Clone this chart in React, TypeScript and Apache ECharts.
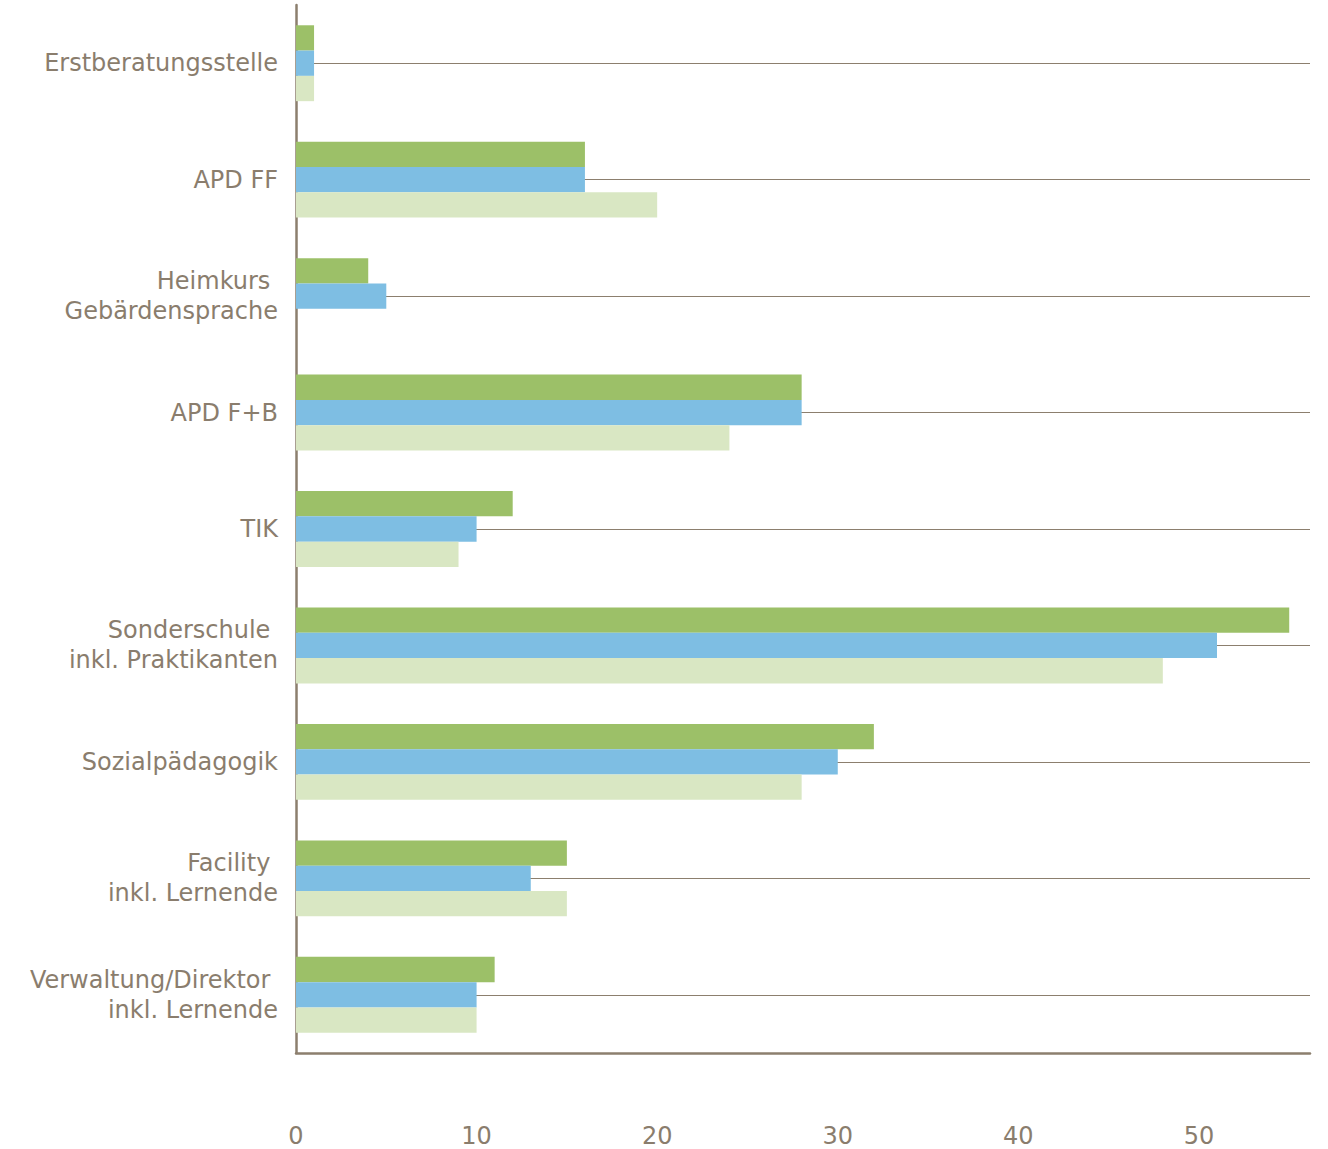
import React, { useEffect, useRef } from "react";
import * as echarts from "echarts";

const categories = [
  "Erstberatungsstelle",
  "APD FF",
  "Heimkurs \nGebärdensprache",
  "APD F+B",
  "TIK",
  "Sonderschule \ninkl. Praktikanten",
  "Sozialpädagogik",
  "Facility \ninkl. Lernende",
  "Verwaltung/Direktor \ninkl. Lernende",
];

const seriesDark = [1, 16, 4, 28, 12, 55, 32, 15, 11];
const seriesBlue = [1, 16, 5, 28, 10, 51, 30, 13, 10];
const seriesLight = [1, 20, 0, 24, 9, 48, 28, 15, 10];

const xTicks = [0, 10, 20, 30, 40, 50];

const TEXT = "#8A7D6D";
const AXIS = "#8C7F6E";
const FONT = "DejaVu Sans";

// small vertical label nudges (px, positive = down) to match the reference
const labelNudge = [-2, -2, -6, 3, 4, 6, 0, 0, -2];

export default function App() {
  const ref = useRef<HTMLDivElement>(null);

  useEffect(() => {
    if (!ref.current) return;
    const chart = echarts.init(ref.current, null, { renderer: "svg" });
    const bar = (data: number[], color: string) => ({
      type: "bar",
      data,
      barWidth: 25.3,
      barGap: "0%",
      z: 10,
      itemStyle: { color },
    });
    const yData = categories.map((c, i) => {
      const d = labelNudge[i];
      return {
        value: c,
        textStyle: {
          padding: d > 0 ? [2 * d, 0, 0, 0] : [0, 0, -2 * d, 0],
        },
      };
    });
    chart.setOption({
      animation: false,
      grid: { left: 296, right: 18, top: 5, bottom: 96, containLabel: false },
      xAxis: {
        type: "value",
        min: xTicks[0],
        max: 56.15,
        interval: 10,
        axisLine: { show: true, lineStyle: { color: AXIS, width: 2.5 } },
        axisTick: { show: false },
        splitLine: { show: false },
        axisLabel: {
          margin: 71,
          color: TEXT,
          fontFamily: FONT,
          fontSize: 24,
          showMaxLabel: false,
        },
      },
      yAxis: {
        type: "category",
        data: yData,
        inverse: true,
        axisLine: { show: true, lineStyle: { color: AXIS, width: 2.5 } },
        axisTick: { show: false },
        splitLine: { show: false },
        axisLabel: {
          margin: 18,
          color: TEXT,
          fontFamily: FONT,
          fontSize: 24,
          lineHeight: 30,
          align: "right",
        },
      },
      series: [
        bar(seriesDark, "#9CC068"),
        bar(seriesBlue, "#7EBEE3"),
        bar(seriesLight, "#D9E7C3"),
        {
          type: "line",
          data: [],
          z: 1,
          markLine: {
            z: 1,
            silent: true,
            symbol: "none",
            label: { show: false },
            lineStyle: { color: AXIS, width: 1.2, type: "solid" },
            data: categories.map((c) => ({ yAxis: c })),
          },
        },
      ],
    });
    return () => chart.dispose();
  }, []);

  return (
    <div
      ref={ref}
      style={{ position: "absolute", left: 0, top: 0, width: 1328, height: 1149 }}
    />
  );
}
